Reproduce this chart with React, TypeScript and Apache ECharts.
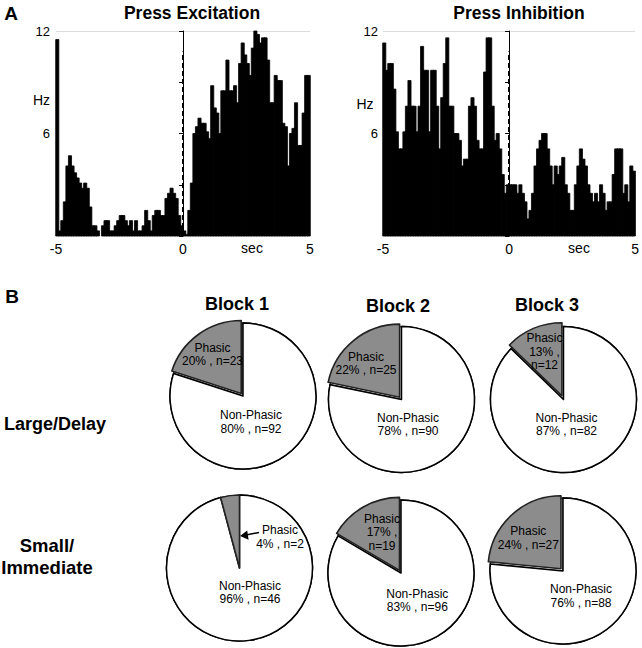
import React, { useEffect, useRef } from "react";
import * as echarts from "echarts";

// ---------- Data ----------
const X_MIN = -5;
const X_MAX = 5;
const BIN = 0.1;
const xTickLabels = ["-5", "0", "5"];
const yTickLabels = ["6", "12"];

// Press Excitation peri-event histogram (Hz), 100 bins of 0.1 s from -5 s
const excitation = [
  11.5, 0.3, 0.9, 2.0, 4.1, 4.7, 4.1, 3.7, 3.4, 3.1,
  2.8, 3.1, 2.8, 1.7, 0.6, 0.6, 0.3, 0.0, 0.6, 0.9,
  0.9, 0.3, 0.3, 0.6, 0.9, 1.2, 1.2, 0.9, 0.6, 0.9,
  0.3, 0.9, 0.3, 0.3, 0.6, 1.5, 0.9, 0.3, 1.2, 1.5,
  1.5, 1.2, 1.2, 2.2, 2.5, 2.8, 2.5, 2.2, 1.2, 0.6,
  0.3, 0.1, 1.5, 3.1, 6.0, 6.4, 6.9, 6.6, 6.6, 6.1,
  5.7, 8.8, 7.5, 7.2, 6.0, 8.5, 8.5, 10.3, 8.5, 8.5,
  8.8, 7.8, 10.1, 11.3, 10.6, 10.1, 9.4, 11.0, 12.0, 11.8,
  11.3, 11.6, 11.6, 10.3, 7.8, 7.8, 9.4, 9.1, 9.1, 6.6,
  6.4, 4.1, 6.0, 6.3, 7.8, 5.3, 5.3, 7.2, 9.4, 9.4,
];

// Press Inhibition peri-event histogram (Hz)
const inhibition = [
  11.3, 9.7, 10.1, 10.1, 8.6, 6.1, 5.1, 5.1, 6.1, 7.6,
  9.1, 7.6, 7.6, 6.1, 7.6, 11.1, 9.7, 9.7, 6.1, 9.7,
  9.7, 7.6, 5.1, 8.1, 10.1, 11.6, 7.6, 7.6, 6.0, 6.0,
  5.6, 4.1, 4.5, 4.5, 7.6, 8.1, 7.6, 5.6, 5.1, 5.1,
  9.6, 11.6, 11.6, 7.6, 5.6, 6.0, 5.1, 3.6, 2.5, 3.0,
  3.0, 3.0, 3.0, 2.5, 3.0, 2.5, 2.0, 1.0, 1.5, 2.5,
  4.1, 5.1, 5.6, 6.0, 6.0, 5.1, 4.1, 3.0, 4.1, 3.6,
  4.1, 4.6, 3.0, 2.5, 1.5, 1.5, 3.0, 4.1, 5.1, 4.5,
  4.1, 3.0, 2.5, 2.0, 2.5, 2.0, 3.0, 2.5, 1.5, 2.0,
  2.0, 3.6, 5.1, 5.1, 5.1, 2.5, 3.0, 2.0, 4.1, 3.8,
];

const EVENT_TOP = 10.8; // height of dashed event marker (Hz)

const blocks = ["Block 1", "Block 2", "Block 3"];
const rows = ["Large/Delay", "Small/\nImmediate"];
const largePhasicN = [23, 25, 12];
const largeNonN = [92, 90, 82];
const largePhasicPct = [20, 22, 13];
const largeNonPct = [80, 78, 87];
const smallPhasicN = [2, 19, 27];
const smallNonN = [46, 96, 88];
const smallPhasicPct = [4, 17, 24];
const smallNonPct = [96, 83, 76];

// ---------- Layout ----------
const FONT = "'Liberation Sans', Arial, Helvetica, sans-serif";
const GRAY = "#8c8c8c";
const PIE_R = 73;
const pieCenters = [
  [[243, 396], [401.5, 399.5], [563.5, 399.5]],
  [[239.5, 568], [401, 573], [563, 571]],
];
const explode = [
  [true, true, true],
  [false, true, true],
];
// label anchor positions [phasic x, y, non x, y]
const labelPos = [
  [[212.5, 354.5, 251, 422], [366, 363.5, 408, 424.5], [544.5, 351.5, 566.5, 424.5]],
  [[280, 537, 250, 592.5], [382, 532, 417.3, 600.5], [528.3, 538, 581, 596]],
];
const phasicText = [
  ["Phasic\n{p}% , n={n}", "Phasic\n{p}% , n={n}", "Phasic\n{p}% ,\nn={n}"],
  ["Phasic\n{p}% , n={n}", "Phasic\n{p}% ,\nn={n}", "Phasic\n{p}% , n={n}"],
];

function histGrid(left: number) {
  return { left, top: 31, width: 254, height: 205 };
}

function xAxisCfg(gridIndex: number) {
  return {
    type: "value",
    gridIndex,
    min: X_MIN,
    max: X_MAX,
    interval: 5,
    axisLine: { show: false },
    axisTick: { show: false },
    splitLine: { show: false },
    axisLabel: {
      fontFamily: FONT,
      fontSize: 14,
      color: "#000",
      margin: 6,
      formatter: (v: number) => xTickLabels[Math.round((v - X_MIN) / 5)] ?? "",
    },
  };
}

function yAxisCfg(gridIndex: number, margin: number) {
  return {
    type: "value",
    gridIndex,
    min: 0,
    max: 12,
    interval: 3,
    axisLine: { show: true, lineStyle: { color: "#000", width: 1 } },
    axisTick: { show: true, length: 4, inside: false, lineStyle: { color: "#000" } },
    splitLine: {
      show: true,
      lineStyle: { color: ["transparent", "transparent", "transparent", "transparent", "#dcdcdc"], width: 1 },
    },
    axisLabel: {
      fontFamily: FONT,
      fontSize: 13,
      color: "#000",
      margin,
      formatter: (v: number) => (yTickLabels.includes(String(v)) ? String(v) : ""),
    },
  };
}

function histSeries(values: number[], idx: number) {
  return {
    type: "custom",
    xAxisIndex: idx,
    yAxisIndex: idx,
    clip: false,
    z: 2,
    data: values.map((v, i) => [X_MIN + i * BIN, v]),
    renderItem: (params: any, api: any) => {
      const x0 = api.value(0);
      const v = api.value(1);
      const p0 = api.coord([x0, v]);
      const p1 = api.coord([x0 + BIN, 0]);
      const h = p1[1] - p0[1];
      return {
        type: "rect",
        shape: { x: p0[0] - 0.3, y: p0[1], width: p1[0] - p0[0] + 0.6, height: h },
        style: { fill: "#000", stroke: h > 0 ? "#000" : "none", lineWidth: 0.8 },
      };
    },
    markLine: {
      silent: true,
      symbol: "none",
      label: { show: false },
      z: 6,
      lineStyle: { color: "#000", width: 2, type: [5, 3] },
      data: [[{ coord: [0, 0] }, { coord: [0, EVENT_TOP] }]],
    },
  };
}

function pieSeries(row: number, col: number, withSelection: boolean) {
  const phasic = row === 0 ? largePhasicN[col] : smallPhasicN[col];
  const non = row === 0 ? largeNonN[col] : smallNonN[col];
  const sel = withSelection && explode[row][col];
  return {
    type: "pie",
    center: pieCenters[row][col],
    radius: PIE_R,
    startAngle: 90,
    clockwise: true,
    selectedMode: withSelection ? "single" : false,
    selectedOffset: col === 2 && row === 0 ? 4 : 3,
    silent: true,
    label: { show: false },
    labelLine: { show: false },
    emphasis: { disabled: true },
    z: withSelection ? 3 : 2,
    data: [
      {
        name: "Non-Phasic",
        value: non,
        itemStyle: { color: "#fff", borderColor: "#000", borderWidth: 1.5 },
      },
      {
        name: "Phasic",
        value: phasic,
        selected: sel,
        itemStyle: {
          color: withSelection ? GRAY : "#fff",
          borderColor: withSelection ? "#222" : "#000",
          borderWidth: withSelection ? 1.6 : 1.2,
        },
      },
    ],
  };
}

function txt(x: number, y: number, text: string, size: number, bold: boolean, extra: any = {}) {
  return {
    type: "text",
    x,
    y,
    z: 10,
    style: {
      text,
      fill: "#000",
      font: `${bold ? "bold " : ""}${size}px ${FONT}`,
      textAlign: "center",
      textVerticalAlign: "middle",
      ...extra,
    },
  };
}

export default function App() {
  const ref = useRef<HTMLDivElement>(null);

  useEffect(() => {
    if (!ref.current) return;
    const chart = echarts.init(ref.current, null, { renderer: "svg" });

    const series: any[] = [histSeries(excitation, 0), histSeries(inhibition, 1)];
    for (let r = 0; r < 2; r++) {
      for (let c = 0; c < 3; c++) {
        series.push(pieSeries(r, c, false));
        series.push(pieSeries(r, c, true));
      }
    }

    const graphics: any[] = [
      txt(11, 13, "A", 19, true),
      txt(192, 13, "Press Excitation", 17.5, true),
      txt(519, 13, "Press Inhibition", 17.5, true),
      txt(41.5, 100, "Hz", 14, false),
      txt(365, 104, "Hz", 14, false),
      txt(252, 248, "sec", 14, false),
      txt(579, 248, "sec", 14, false),
      txt(12, 296, "B", 19, true),
      txt(237, 304, blocks[0], 18, true),
      txt(398, 306, blocks[1], 18, true),
      txt(547, 305, blocks[2], 18, true),
      txt(55, 424, rows[0], 18, true),
      txt(47, 556, rows[1], 18.5, true, { lineHeight: 22 }),
    ];

    for (let r = 0; r < 2; r++) {
      for (let c = 0; c < 3; c++) {
        const pp = r === 0 ? largePhasicPct[c] : smallPhasicPct[c];
        const pn = r === 0 ? largePhasicN[c] : smallPhasicN[c];
        const np = r === 0 ? largeNonPct[c] : smallNonPct[c];
        const nn = r === 0 ? largeNonN[c] : smallNonN[c];
        const lp = labelPos[r][c];
        const ptext = phasicText[r][c].replace("{p}", String(pp)).replace("{n}", String(pn));
        graphics.push(txt(lp[0], lp[1], ptext, 12, false, { lineHeight: 13.5, fill: "#000" }));
        graphics.push(txt(lp[2], lp[3], `Non-Phasic\n${np}% , n=${nn}`, 12, false, { lineHeight: 13.5, fill: "#000" }));
      }
    }

    // arrow pointing to the tiny phasic wedge (Block 1, Small/Immediate)
    graphics.push({
      type: "line",
      z: 10,
      shape: { x1: 259, y1: 532.5, x2: 246, y2: 535 },
      style: { stroke: "#000", lineWidth: 1.5 },
    });
    graphics.push({
      type: "polygon",
      z: 10,
      shape: { points: [[240, 536], [248.6, 539.8], [247.2, 530.6]] },
      style: { fill: "#000" },
    });

    chart.setOption({
      animation: false,
      backgroundColor: "#fff",
      grid: [histGrid(56), histGrid(383)],
      xAxis: [xAxisCfg(0), xAxisCfg(1)],
      yAxis: [yAxisCfg(0, 6), yAxisCfg(1, 5)],
      series,
      graphic: graphics,
    });

    return () => chart.dispose();
  }, []);

  return (
    <div
      ref={ref}
      style={{ position: "fixed", left: 0, top: 0, width: 642, height: 648, background: "#fff" }}
    />
  );
}
